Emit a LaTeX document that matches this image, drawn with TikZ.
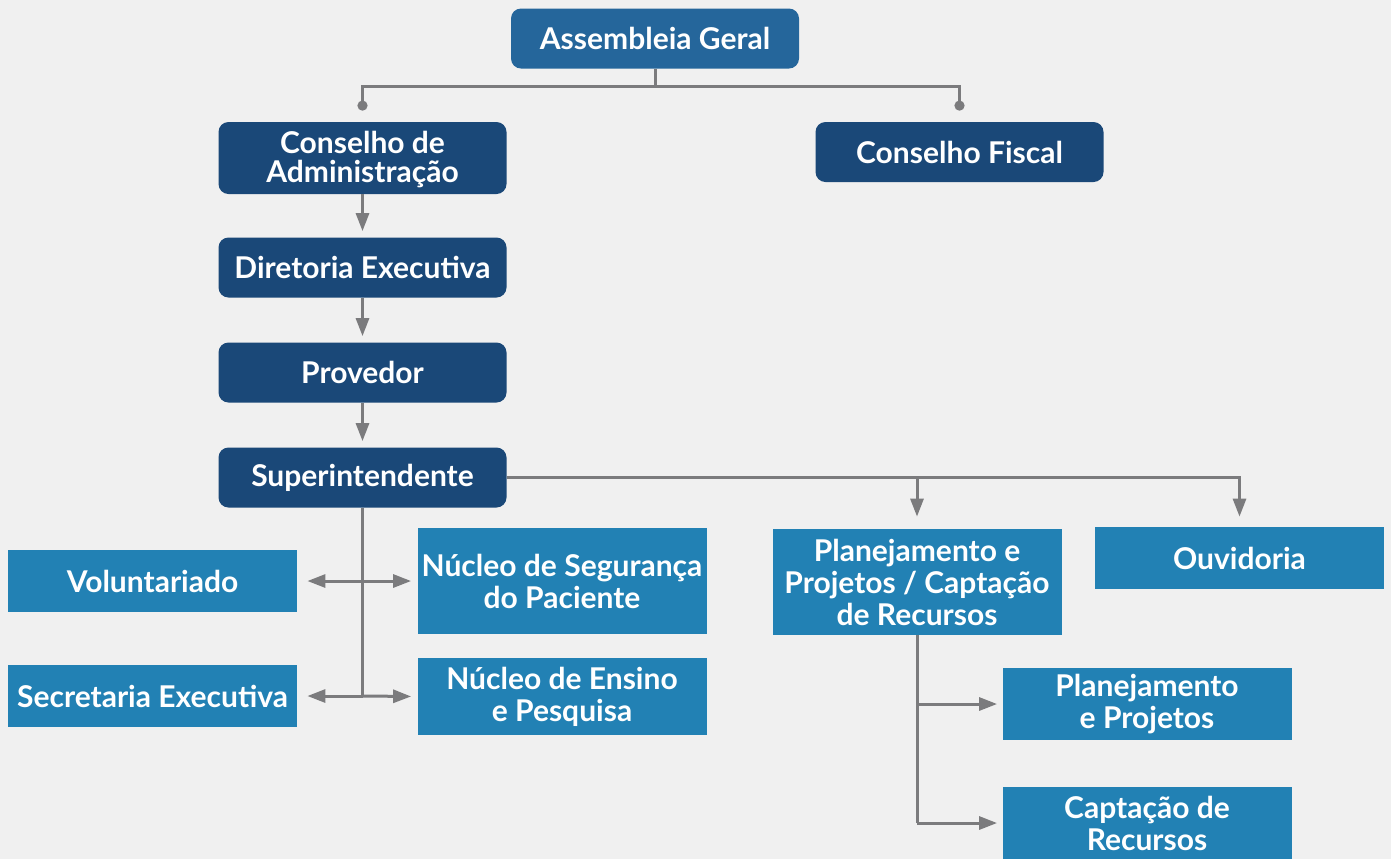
\documentclass[tikz,border=0pt]{standalone}
\usepackage{fontspec}
\setmainfont{Lato}
\usetikzlibrary{arrows.meta,positioning}
\definecolor{topblue}{HTML}{25669B}
\definecolor{darkblue}{HTML}{1A4878}
\definecolor{lightblue}{HTML}{2281B4}
\definecolor{linegray}{HTML}{7B7B7D}
\definecolor{bggray}{HTML}{F0F0F0}

\begin{document}
\begin{tikzpicture}[x=0.5pt, y=-0.5pt, node distance=52.5pt,
    box/.style = {text=white, font=\fontsize{15}{16}\selectfont\bfseries, align=center, inner sep=0pt, minimum width=144pt, minimum height=30pt},
    main/.style = {box, fill=darkblue, rounded corners=5pt},
    sub/.style = {box, fill=lightblue, minimum width=144.5pt},
    link/.style = {draw=linegray, line width=1.5pt},
    arr/.style = {link, -{Triangle[length=9pt,width=6.5pt]}, shorten >=3pt}]
      \fill[bggray] (0,0) rectangle (1391,859);
      \clip (0,0) rectangle (1391,859);
      \node[main, fill=topblue] (ag) at (655,38.5) {Assembleia Geral};
      \node[main, minimum height=36pt, font=\fontsize{15}{14.5}\selectfont\bfseries, text depth=1pt] (cadm) at (362.5,158) {Conselho de\\Administração};
      \node[main] (cfis) at (959.5,152) {Conselho Fiscal};
      \node[main] (dir) at (362.5,267.5) {Diretoria Executiva};
      \node[main] (prov) [below of=dir] {Provedor};
      \node[main] (sup) [below of=prov] {Superintendente};
      \node[sub, minimum height=31pt] (vol) at (152.5,581) {Voluntariado};
      \node[sub, minimum height=31pt] (sec) at (152.5,696) {Secretaria Executiva};
      \node[sub, minimum height=53pt] (nsp) at (562,581) {Núcleo de Segurança\\do Paciente};
      \node[sub, minimum height=38.5pt] (nep) at (562,696.5) {Núcleo de Ensino\\e Pesquisa};
      \node[sub, minimum height=53pt] (pla) at (917,582) {Planejamento e\\Projetos / Captação\\de Recursos};
      \node[sub, minimum height=31pt] (ouv) at (1239.5,558) {Ouvidoria};
      \node[sub, minimum height=36pt] (pp) at (1147,704) {Planejamento\\e Projetos};
      \node[sub, minimum height=36pt] (cap) at (1147,823) {Captação de\\Recursos};
      \coordinate (ja) at (655,86);
      \coordinate (j1) at (sup.south |- vol.east);
      \coordinate (j2) at (sup.south |- sec.east);
      \coordinate (j3) at (pla.south |- pp.west);
      \coordinate (j4) at (pla.south |- cap.west);
      \draw[link] (ag.south) -- (ja);
      \draw[link, -{Circle[length=5pt]}, shorten >=5.5pt] (ja) -| (cadm.north);
      \draw[link, -{Circle[length=5pt]}, shorten >=5.5pt] (ja) -| (cfis.north);
      \draw[arr] (cadm) -- (dir);
      \draw[arr] (dir) -- (prov);
      \draw[arr] (prov) -- (sup);
      \draw[arr, shorten >=6pt] (sup.east) -| (pla.north);
      \draw[arr, shorten >=5pt] (sup.east) -| (ouv.north);
      \draw[link] (sup.south) -- (j2);
      \draw[arr, shorten >=5pt] (j1) -- (vol.east);
      \draw[arr] (j1) -- (nsp.west);
      \draw[arr, shorten >=5pt] (j2) -- (sec.east);
      \draw[arr] (j2) -- (nep.west);
      \draw[link] (pla.south) -- (j4);
      \draw[arr, shorten >=2.5pt] (j3) -- (pp.west);
      \draw[arr, shorten >=2.5pt] (j4) -- (cap.west);
    \end{tikzpicture}
\end{document}
